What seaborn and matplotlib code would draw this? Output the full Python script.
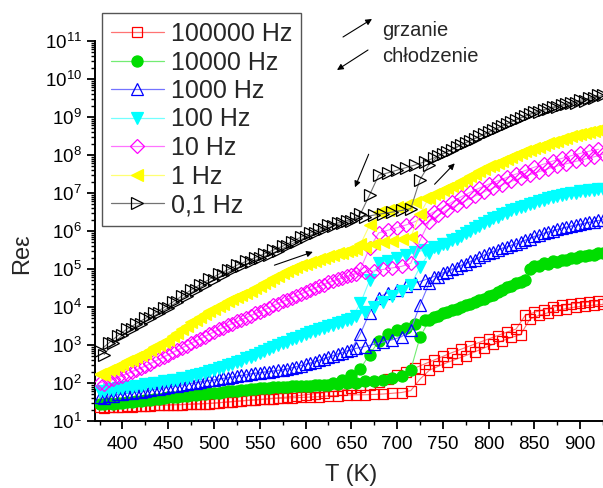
import matplotlib
matplotlib.use("Agg")
import numpy as np
import pandas as pd
import matplotlib.pyplot as plt
from matplotlib.lines import Line2D
from matplotlib.ticker import FixedLocator, LogLocator, NullFormatter
import seaborn as sns

# ---------------- data (log10 of Re(eps)) ----------------
T_heat = [375, 385, 395, 405, 415, 425, 435, 445, 455, 465,
          475, 485, 495, 505, 515, 525, 535, 545, 555, 565,
          575, 585, 595, 605, 615, 625, 635, 645, 655, 665,
          675, 685, 695, 705, 715, 725, 735, 745, 755, 765,
          775, 785, 795, 805, 815, 825, 835, 845, 855, 865,
          875, 885, 895, 905, 915, 925]
T_cool = [380, 390, 400, 410, 420, 430, 440, 450, 460, 470,
          480, 490, 500, 510, 520, 530, 540, 550, 560, 570,
          580, 590, 600, 610, 620, 630, 640, 650, 660, 670,
          680, 690, 700, 710, 720, 730, 740, 750, 760, 770,
          780, 790, 800, 810, 820, 830, 840, 850, 860, 870,
          880, 890, 900, 910, 920]

labels = ["100000 Hz", "10000 Hz", "1000 Hz", "100 Hz", "10 Hz", "1 Hz", "0,1 Hz"]

log_100kHz_heat = [1.36, 1.37, 1.38, 1.39, 1.40, 1.40, 1.41, 1.42, 1.43, 1.43,
                   1.44, 1.45, 1.46, 1.48, 1.50, 1.52, 1.54, 1.55, 1.57, 1.59,
                   1.60, 1.61, 1.62, 1.63, 1.64, 1.66, 1.67, 1.68, 1.69, 1.69,
                   1.70, 1.71, 1.73, 1.75, 1.80, 2.10, 2.33, 2.44, 2.54, 2.63,
                   2.72, 2.82, 2.92, 3.02, 3.11, 3.20, 3.27, 3.68, 3.78, 3.85,
                   3.91, 3.96, 4.00, 4.03, 4.05, 4.07]
log_100kHz_cool = [1.35, 1.36, 1.37, 1.38, 1.39, 1.40, 1.41, 1.42, 1.43, 1.44,
                   1.45, 1.46, 1.47, 1.49, 1.51, 1.53, 1.55, 1.57, 1.59, 1.61,
                   1.63, 1.66, 1.69, 1.72, 1.75, 1.78, 1.82, 1.86, 1.90, 1.95,
                   2.02, 2.10, 2.20, 2.30, 2.40, 2.50, 2.60, 2.70, 2.80, 2.89,
                   2.98, 3.07, 3.16, 3.25, 3.34, 3.42, 3.78, 3.86, 3.93, 3.99,
                   4.04, 4.08, 4.11, 4.13, 4.15]

log_10kHz_heat = [1.45, 1.47, 1.48, 1.50, 1.53, 1.55, 1.58, 1.61, 1.63, 1.66,
                  1.68, 1.70, 1.73, 1.75, 1.78, 1.80, 1.82, 1.85, 1.87, 1.89,
                  1.90, 1.91, 1.92, 1.93, 1.95, 1.96, 1.97, 1.99, 2.01, 2.04,
                  2.06, 2.09, 2.13, 2.18, 2.35, 3.20, 3.65, 3.76, 3.87, 3.96,
                  4.04, 4.12, 4.21, 4.32, 4.44, 4.56, 4.66, 5.00, 5.07, 5.13,
                  5.18, 5.23, 5.28, 5.33, 5.37, 5.41]
log_10kHz_cool = [1.44, 1.46, 1.48, 1.51, 1.53, 1.56, 1.59, 1.62, 1.64, 1.67,
                  1.69, 1.71, 1.74, 1.76, 1.79, 1.81, 1.83, 1.86, 1.88, 1.89,
                  1.90, 1.91, 1.93, 1.94, 1.96, 2.00, 2.08, 2.20, 2.38, 2.75,
                  3.10, 3.30, 3.40, 3.46, 3.55, 3.65, 3.75, 3.84, 3.93, 4.01,
                  4.09, 4.18, 4.28, 4.40, 4.52, 4.62, 4.72, 5.08, 5.15, 5.20,
                  5.25, 5.30, 5.34, 5.38, 5.41]

log_1kHz_heat = [1.62, 1.66, 1.70, 1.73, 1.76, 1.79, 1.83, 1.87, 1.91, 1.95,
                 1.99, 2.03, 2.07, 2.10, 2.14, 2.18, 2.22, 2.26, 2.29, 2.32,
                 2.35, 2.40, 2.46, 2.52, 2.60, 2.68, 2.76, 2.84, 2.91, 2.96,
                 3.02, 3.08, 3.14, 3.22, 3.40, 4.05, 4.62, 4.80, 4.92, 5.03,
                 5.14, 5.25, 5.36, 5.46, 5.55, 5.63, 5.71, 5.80, 5.89, 5.97,
                 6.04, 6.10, 6.15, 6.20, 6.25, 6.30]
log_1kHz_cool = [1.60, 1.67, 1.71, 1.74, 1.77, 1.81, 1.85, 1.89, 1.93, 1.97,
                 2.01, 2.05, 2.08, 2.12, 2.16, 2.20, 2.24, 2.27, 2.30, 2.33,
                 2.37, 2.43, 2.49, 2.56, 2.64, 2.72, 2.80, 2.88, 3.30, 3.85,
                 4.25, 4.38, 4.46, 4.54, 4.63, 4.71, 4.80, 4.90, 5.00, 5.10,
                 5.20, 5.31, 5.42, 5.50, 5.58, 5.66, 5.76, 5.86, 5.94, 6.01,
                 6.07, 6.13, 6.18, 6.23, 6.28]

log_100Hz_heat = [1.80, 1.83, 1.86, 1.90, 1.93, 1.97, 2.01, 2.05, 2.09, 2.13,
                  2.18, 2.24, 2.31, 2.39, 2.47, 2.55, 2.65, 2.75, 2.85, 2.95,
                  3.05, 3.15, 3.25, 3.34, 3.42, 3.50, 3.58, 3.66, 3.76, 3.88,
                  4.00, 4.14, 4.28, 4.42, 4.58, 5.05, 5.42, 5.55, 5.67, 5.80,
                  5.94, 6.08, 6.22, 6.35, 6.45, 6.54, 6.62, 6.70, 6.78, 6.86,
                  6.92, 6.97, 7.01, 7.05, 7.08, 7.11]
log_100Hz_cool = [1.78, 1.82, 1.86, 1.89, 1.93, 1.97, 2.01, 2.05, 2.09, 2.14,
                  2.20, 2.26, 2.33, 2.41, 2.50, 2.59, 2.69, 2.79, 2.89, 2.99,
                  3.09, 3.19, 3.28, 3.37, 3.45, 3.53, 3.61, 3.69, 4.10, 4.70,
                  5.15, 5.22, 5.30, 5.37, 5.44, 5.50, 5.57, 5.66, 5.76, 5.88,
                  6.01, 6.14, 6.27, 6.38, 6.48, 6.57, 6.66, 6.74, 6.82, 6.89,
                  6.95, 7.00, 7.04, 7.08, 7.11]

log_10Hz_heat = [2.00, 2.08, 2.16, 2.25, 2.35, 2.45, 2.57, 2.69, 2.81, 2.93,
                 3.05, 3.17, 3.29, 3.41, 3.52, 3.62, 3.72, 3.83, 3.93, 4.04,
                 4.15, 4.25, 4.35, 4.45, 4.55, 4.65, 4.73, 4.81, 4.87, 4.91,
                 4.95, 4.99, 5.03, 5.07, 5.15, 5.75, 6.25, 6.42, 6.56, 6.68,
                 6.80, 6.92, 7.03, 7.13, 7.22, 7.31, 7.39, 7.48, 7.56, 7.64,
                 7.71, 7.77, 7.83, 7.89, 7.95, 8.02]
log_10Hz_cool = [1.98, 2.10, 2.19, 2.29, 2.39, 2.50, 2.62, 2.74, 2.86, 2.98,
                 3.10, 3.22, 3.34, 3.46, 3.56, 3.66, 3.77, 3.87, 3.98, 4.09,
                 4.19, 4.29, 4.39, 4.49, 4.59, 4.68, 4.76, 4.83, 5.00, 5.55,
                 5.95, 6.02, 6.09, 6.16, 6.25, 6.38, 6.50, 6.62, 6.76, 6.90,
                 7.02, 7.13, 7.23, 7.32, 7.41, 7.50, 7.59, 7.68, 7.76, 7.84,
                 7.91, 7.98, 8.04, 8.10, 8.15]

log_1Hz_heat = [2.25, 2.35, 2.46, 2.57, 2.68, 2.80, 2.94, 3.08, 3.23, 3.41,
                3.60, 3.75, 3.90, 4.03, 4.15, 4.27, 4.38, 4.49, 4.62, 4.76,
                4.90, 5.00, 5.10, 5.19, 5.27, 5.35, 5.41, 5.47, 5.53, 5.59,
                5.65, 5.70, 5.75, 5.80, 5.84, 6.45, 6.88, 7.00, 7.12, 7.25,
                7.38, 7.51, 7.63, 7.75, 7.85, 7.95, 8.05, 8.14, 8.22, 8.31,
                8.38, 8.45, 8.52, 8.59, 8.64, 8.70]
log_1Hz_cool = [2.20, 2.38, 2.50, 2.61, 2.73, 2.86, 3.00, 3.14, 3.31, 3.50,
                3.67, 3.82, 3.96, 4.08, 4.20, 4.32, 4.43, 4.54, 4.68, 4.82,
                4.94, 5.04, 5.14, 5.22, 5.30, 5.37, 5.43, 5.49, 5.65, 6.15,
                6.50, 6.56, 6.62, 6.68, 6.76, 6.86, 6.97, 7.07, 7.19, 7.32,
                7.45, 7.58, 7.70, 7.80, 7.90, 8.00, 8.10, 8.19, 8.27, 8.35,
                8.42, 8.49, 8.55, 8.61, 8.67]

log_01Hz_heat = [2.85, 3.05, 3.25, 3.42, 3.56, 3.70, 3.84, 3.98, 4.13, 4.29,
                 4.45, 4.59, 4.73, 4.86, 4.98, 5.10, 5.20, 5.30, 5.40, 5.50,
                 5.60, 5.72, 5.84, 5.95, 6.05, 6.15, 6.21, 6.27, 6.33, 6.38,
                 6.42, 6.46, 6.50, 6.54, 6.59, 7.35, 7.75, 7.97, 8.09, 8.21,
                 8.32, 8.43, 8.54, 8.65, 8.76, 8.87, 8.97, 9.07, 9.14, 9.21,
                 9.27, 9.33, 9.38, 9.43, 9.50, 9.58]
log_01Hz_cool = [2.75, 3.05, 3.26, 3.42, 3.56, 3.70, 3.84, 3.98, 4.14, 4.30,
                 4.45, 4.59, 4.72, 4.85, 4.97, 5.08, 5.18, 5.28, 5.38, 5.48,
                 5.60, 5.72, 5.83, 5.94, 6.05, 6.13, 6.20, 6.26, 6.45, 6.95,
                 7.47, 7.53, 7.60, 7.67, 7.74, 7.82, 7.92, 8.03, 8.14, 8.26,
                 8.38, 8.49, 8.60, 8.71, 8.82, 8.93, 9.03, 9.12, 9.19, 9.26,
                 9.32, 9.38, 9.44, 9.50, 9.58]

heat_series = [log_100kHz_heat, log_10kHz_heat, log_1kHz_heat, log_100Hz_heat,
               log_10Hz_heat, log_1Hz_heat, log_01Hz_heat]
cool_series = [log_100kHz_cool, log_10kHz_cool, log_1kHz_cool, log_100Hz_cool,
               log_10Hz_cool, log_1Hz_cool, log_01Hz_cool]

# ---------------- styles ----------------
colors = ["#FF0000", "#00DD00", "#0000FF", "#00FFFF", "#FF00FF", "#FFFF00", "#000000"]
markers = ["s", "o", "^", "v", "D", "<", ">"]
filled = [False, True, False, True, False, True, False]
msizes = [6.8, 8.0, 8.6, 8.6, 6.8, 8.6, 8.6]


def lighten(c, f=0.45):
    r, g, b = matplotlib.colors.to_rgb(c)
    return (r + (1 - r) * f, g + (1 - g) * f, b + (1 - b) * f)


sns.set_style("ticks")
plt.rcParams["font.family"] = ["Liberation Sans", "DejaVu Sans"]
plt.rcParams["mathtext.fontset"] = "custom"
plt.rcParams["mathtext.rm"] = "Liberation Sans"
plt.rcParams["mathtext.it"] = "Liberation Sans:italic"
plt.rcParams["mathtext.default"] = "regular"

W, H = 603, 488
fig = plt.figure(figsize=(W / 100, H / 100), dpi=100)
ax = fig.add_axes([95 / W, 1 - 421 / H, 508 / W, 380 / H])

handles = []
for i in range(len(labels)):
    c = colors[i]
    mfc = c if filled[i] else "none"
    for T, lg in ((T_heat, heat_series[i]), (T_cool, cool_series[i])):
        vals = np.power(10.0, np.asarray(lg))
        df = pd.DataFrame({"T": T, "v": vals})
        sns.lineplot(data=df, x="T", y="v", ax=ax, color=lighten(c), lw=0.8,
                     sort=False, estimator=None, zorder=2 + i)
        sns.lineplot(data=df, x="T", y="v", ax=ax, color=c, lw=0, sort=False,
                     estimator=None, marker=markers[i], markersize=msizes[i],
                     markerfacecolor=mfc, markeredgecolor=c,
                     markeredgewidth=0.9, linestyle="none", zorder=3 + i)
    handles.append(Line2D([], [], color=lighten(c), lw=0.9, marker=markers[i],
                          markersize=msizes[i], markerfacecolor=mfc,
                          markeredgecolor=c, markeredgewidth=0.9))

ax.set_yscale("log")
ax.set_xlim(370, 925)
ax.set_ylim(10, 1e11)
ax.xaxis.set_major_locator(FixedLocator([400, 450, 500, 550, 600, 650, 700, 750, 800, 850, 900]))
ax.xaxis.set_minor_locator(FixedLocator([375, 425, 475, 525, 575, 625, 675, 725, 775, 825, 875, 925]))
ax.yaxis.set_major_locator(LogLocator(base=10, numticks=20))
ax.yaxis.set_minor_locator(LogLocator(base=10, subs=np.arange(2, 10), numticks=100))
ax.yaxis.set_minor_formatter(NullFormatter())

for s in ["top", "right"]:
    ax.spines[s].set_visible(False)
for s in ["left", "bottom"]:
    ax.spines[s].set_linewidth(1.4)
    ax.spines[s].set_color("black")
ax.tick_params(axis="both", which="major", direction="out", length=5.5, width=1.3,
               labelsize=13.5, colors="black")
ax.tick_params(axis="x", which="major", pad=5)
ax.tick_params(axis="y", which="major", pad=4)
ax.tick_params(axis="both", which="minor", direction="out", length=3, width=1.0,
               colors="black")
ax.grid(False)
ax.set_facecolor("white")

ax.set_xlabel("T (K)", fontsize=17)
ax.set_ylabel("Reε", fontsize=17)
ax.xaxis.set_label_coords(0.505, -0.112)
ax.yaxis.set_label_coords(-0.122, 0.44)

leg = ax.legend(handles, labels, loc="upper left",
                bbox_to_anchor=(102 / W, 1 - 13 / H), bbox_transform=fig.transFigure,
                borderaxespad=0, fontsize=18, frameon=True, fancybox=False,
                framealpha=1, edgecolor="#555555", handlelength=2.1,
                handletextpad=0.3, labelspacing=0.18, borderpad=0.36)
leg.get_frame().set_linewidth(1.0)
leg.set_zorder(20)


def fpx(x, y):
    return (x / W, 1 - y / H)


arrow_kw = dict(arrowstyle="-|>", color="black", lw=0.8, mutation_scale=9,
                shrinkA=0, shrinkB=0)
ax.annotate("", xy=fpx(372, 19), xytext=fpx(343, 37), xycoords="figure fraction",
            textcoords="figure fraction", arrowprops=arrow_kw, annotation_clip=False)
ax.annotate("", xy=fpx(337, 70), xytext=fpx(368, 50), xycoords="figure fraction",
            textcoords="figure fraction", arrowprops=arrow_kw, annotation_clip=False)
fig.text(382 / W, 1 - 30 / H, "grzanie", fontsize=14.5, va="center", ha="left")
fig.text(382 / W, 1 - 56 / H, "chłodzenie", fontsize=14.5, va="center", ha="left")

# arrows inside the plot (data coordinates)
ax.annotate("", xy=(654, 10 ** 7.15), xytext=(669, 10 ** 8.02), arrowprops=arrow_kw)
ax.annotate("", xy=(763, 10 ** 7.78), xytext=(741, 10 ** 7.23), arrowprops=arrow_kw)
ax.annotate("", xy=(608, 10 ** 5.45), xytext=(566, 10 ** 5.10), arrowprops=arrow_kw)

fig.savefig("out.png", dpi=100, facecolor="white")
